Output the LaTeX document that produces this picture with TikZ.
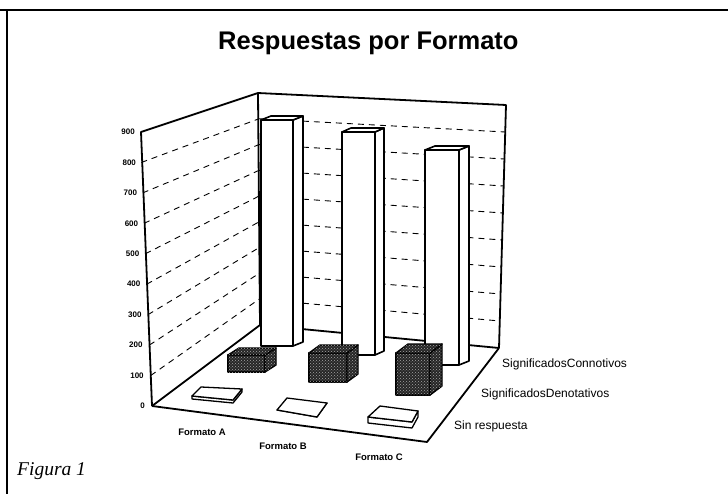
\documentclass[tikz,border=0pt]{standalone}
\usepackage{fontspec}
\setmainfont{Liberation Sans}
\newfontfamily\captionserif{Liberation Serif}
\usetikzlibrary{patterns}

\tikzset{
	wall/.style={line width=1.8pt, line join=round},
	gridline/.style={dash pattern=on 6pt off 5pt, line width=0.9pt},
	barface/.style={draw, fill=white, line width=1.6pt, line join=round},
	darkface/.style={draw, fill=black!85, line width=1.4pt, line join=round,
		postaction={pattern=crosshatch dots, pattern color=gray!70}},
	slabface/.style={draw, fill=white, line width=1.3pt, line join=round},
	axislabel/.style={anchor=east, inner sep=0pt, font=\bfseries\fontsize{8}{9}\selectfont},
	catlabel/.style={inner sep=0pt, font=\bfseries\fontsize{9.5}{11}\selectfont},
	serlabel/.style={anchor=west, inner sep=0pt, font=\fontsize{12}{14}\selectfont}
}

% cuboid: style, left, top, right, bottom, depth dx, depth dy
\newcommand{\cuboid}[7]{
	\draw[#1] (#2,#3) rectangle (#4,#5);
	\draw[#1] (#4,#3) -- ++(#6,#7) -- (#4+#6,#5+#7) -- (#4,#5) -- cycle;
	\draw[#1] (#2,#3) -- ++(#6,#7) -- (#4+#6,#3+#7) -- (#4,#3) -- cycle;
}

% slab: left, back, right, front corners of the top face, thickness
\newcommand{\slab}[5]{
	\draw[slabface] #1 -- #4 -- #3 -- ++(0,#5) -- ($#4+(0,#5)$) -- ($#1+(0,#5)$) -- cycle;
	\draw[slabface] #1 -- #2 -- #3 -- #4 -- cycle;
}

\usetikzlibrary{calc}

\begin{document}
\begin{tikzpicture}[x=1pt, y=-1pt]
		\useasboundingbox (0,0) rectangle (728,494);

		% Frame
		\draw[line width=1.3pt] (0,10) -- (728,10);
		\draw[line width=1.3pt] (7,10) -- (7,494);

		% Title
		\node[anchor=base west, inner sep=0pt, font=\bfseries\fontsize{25.5}{28}\selectfont] (title) at (218,50) {Respuestas por Formato};

		% Grid lines on the walls
		\foreach \v in {100,200,...,800} {
				\draw[gridline] ({152-\v*12/900},{406-\v*0.3044}) -- (259,{325-\v*0.2578});
				\draw[gridline] (259,{325-\v*0.2578}) -- ({499+\v*7/900},{348-\v*0.27});
			}

		% Walls and floor
		\draw[wall] (152,406) -- (141,132) -- (258,93) -- (506,105) -- (499,348);
		\draw[wall] (258,93) -- (260,325);
		\draw[wall] (152,406) -- (260,325) -- (499,348);
		\draw[wall] (152,406) -- (427,442) -- (499,348);

		% Axis labels
		\foreach \v in {0,100,...,900} {
				\node[axislabel] (y\v) at ({145-\v*10/900},{406-\v*0.3044}) {\v};
			}

		% Significados Connotativos (back row)
		\cuboid{barface}{261}{120}{293}{346}{10}{-4}
		\cuboid{barface}{342}{132}{375}{355}{9}{-4}
		\cuboid{barface}{425}{150}{459}{365}{10}{-4}

		% Significados Denotativos (middle row)
		\cuboid{darkface}{228}{355}{265}{372}{11}{-7}
		\cuboid{darkface}{309}{353}{347}{382}{11}{-8}
		\cuboid{darkface}{396}{353}{430}{395}{12}{-9}

		% Sin respuesta (front row)
		\slab{(192,396)}{(201,387)}{(242,389)}{(233,400)}{3}
		\slab{(277,410)}{(287,398)}{(327,403)}{(317,417)}{0}
		\slab{(368,417)}{(380,406)}{(418,411)}{(412,422)}{6}

		% Category and series labels
		\node[catlabel] (fmtA) at (202,432) {Formato A};
		\node[catlabel] (fmtB) at (283,446) {Formato B};
		\node[catlabel] (fmtC) at (379,457) {Formato C};
		\node[serlabel] (connot) at (502,364) {SignificadosConnotivos};
		\node[serlabel] (denot) at (481,394) {SignificadosDenotativos};
		\node[serlabel] (sinresp) at (454,426) {Sin respuesta};

		% Caption
		\node[anchor=base west, inner sep=0pt, font=\captionserif\itshape\fontsize{19.5}{22}\selectfont] (caption) at (17,475) {Figura 1};
	\end{tikzpicture}
\end{document}
